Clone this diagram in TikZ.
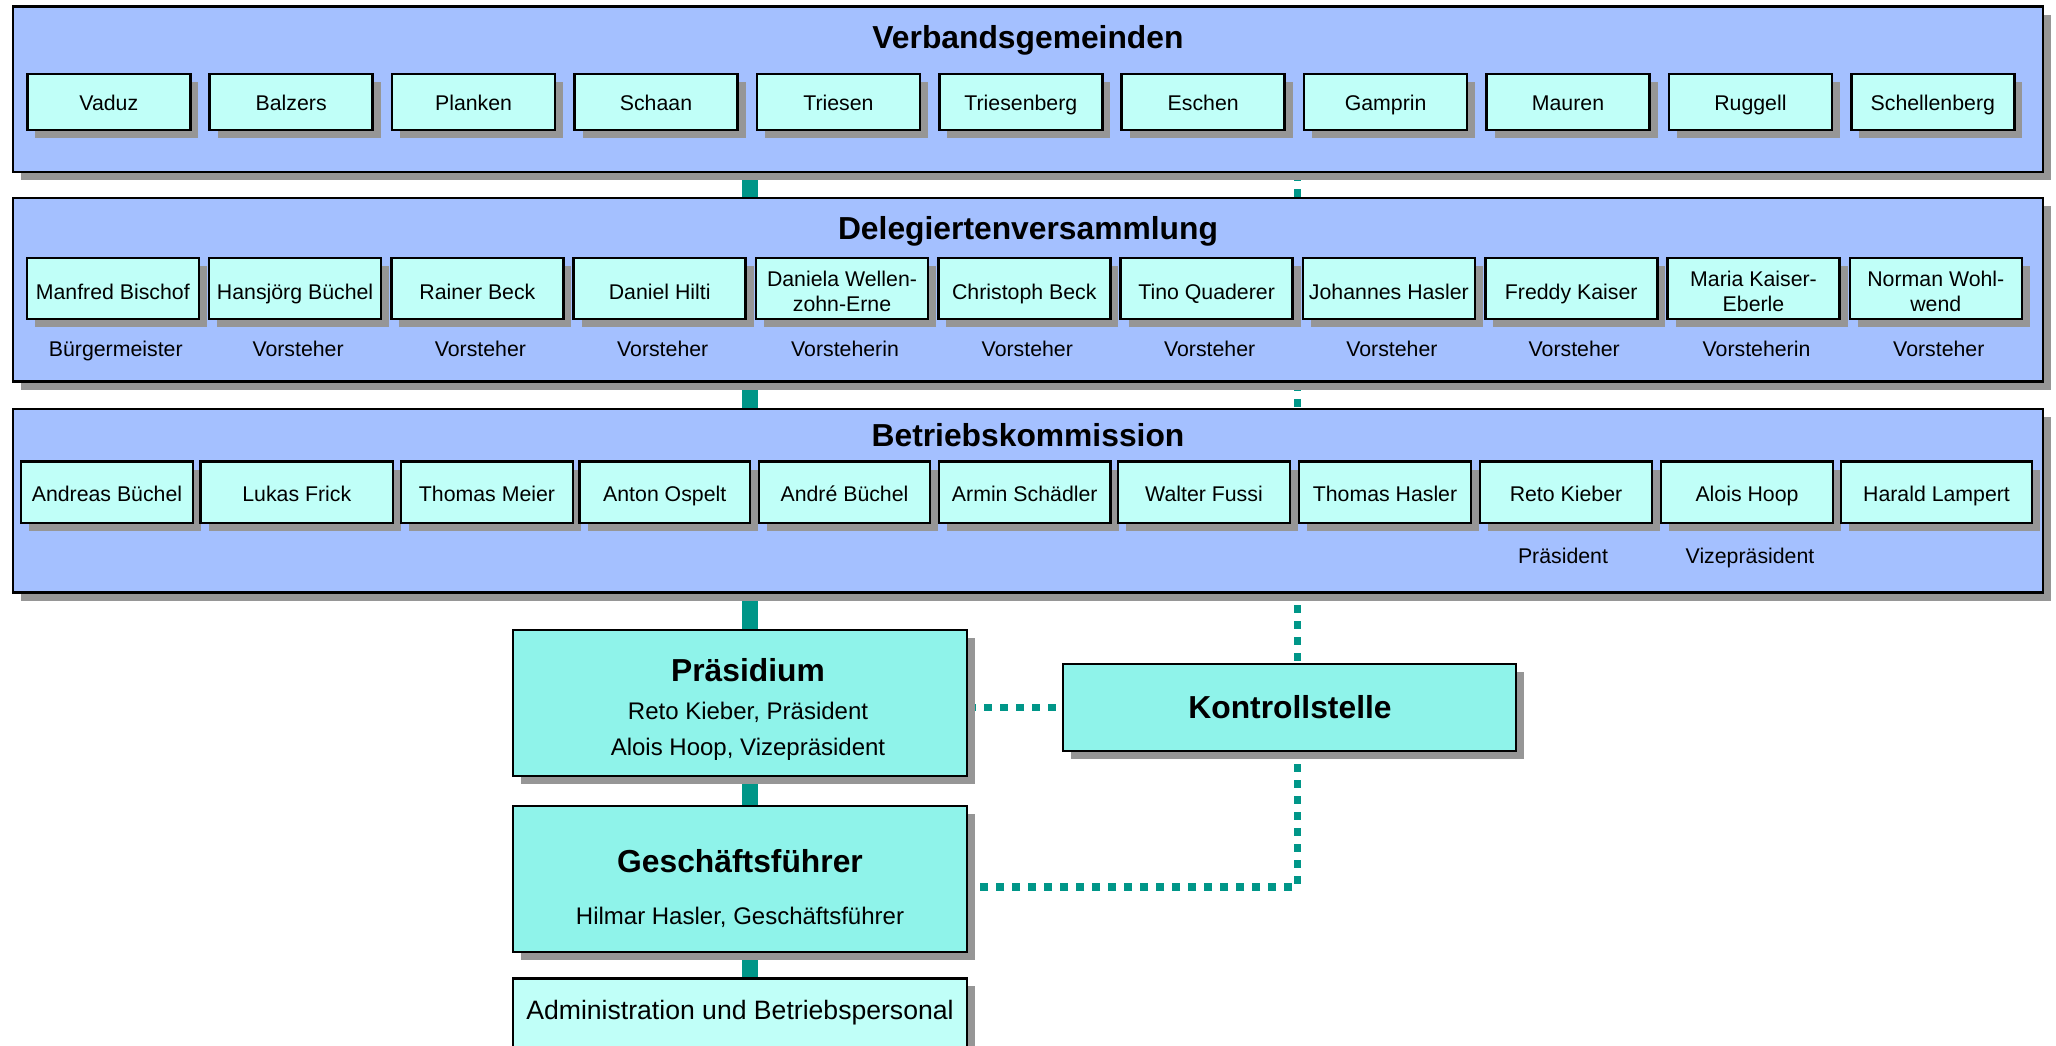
\documentclass[tikz,border=0pt]{standalone}
\usepackage{fontspec}
\setmainfont{Liberation Sans}
\usetikzlibrary{shadows}
\definecolor{bandblue}{RGB}{164,192,255}
\definecolor{cellcyan}{RGB}{192,255,248}
\definecolor{keycyan}{RGB}{143,243,234}
\definecolor{shadowgray}{RGB}{150,150,150}
\definecolor{linkteal}{RGB}{0,150,136}
\pgfdeclarelayer{paper}
\pgfdeclarelayer{links}
\pgfsetlayers{paper,links,main}
\newcommand\fsTitle{\fontsize{31.8}{36}\selectfont\bfseries}
\newcommand\fsCell{\fontsize{21.3}{25}\selectfont}
\newcommand\fsSub{\fontsize{24}{28}\selectfont}
\newcommand\fsAdmin{\fontsize{26.6}{30}\selectfont}

\begin{document}
\begin{tikzpicture}[x=1pt,y=-1pt,
  shadowed/.style={drop shadow={shadow xshift=8pt,shadow yshift=-8pt,fill=shadowgray,opacity=1}},
  band/.style={shadowed,draw=black,line width=2.8pt,fill=bandblue,inner sep=0pt,minimum width=2030pt},
  cell/.style={shadowed,draw=black,line width=2.6pt,fill=cellcyan,inner sep=0pt,align=center,font=\fsCell},
  rowA/.style={text height=16pt,text depth=0pt},
  rowB/.style={text height=22.4pt,text depth=0pt},
  rowBtwo/.style={text height=45pt,text depth=0pt},
  rowC/.style={text height=18.8pt,text depth=0pt},
  keybox/.style={shadowed,draw=black,line width=2.8pt,fill=keycyan,inner sep=0pt},
  title/.style={anchor=base,font=\fsTitle},
  role/.style={anchor=base,font=\fsCell},
  spine/.style={draw=linkteal,line width=16pt},
  audit/.style={draw=linkteal,line width=7.5pt,dash pattern=on 8pt off 8pt}
]
\useasboundingbox (0,0) rectangle (2056,1045);
\begin{pgfonlayer}{paper}
  \fill[white] (0,0) rectangle (2056,1045);
\end{pgfonlayer}

% the three member bands
\node[band,minimum height=165.5pt] (band1) at (1028,89.25) {};
\node[band,minimum height=183.5pt] (band2) at (1028,289.75) {};
\node[band,minimum height=183.6pt] (band3) at (1028,500.8) {};
\node[title] (t1) at (1028,48) {Verbandsgemeinden};
\node[title] (t2) at (1028,239.3) {Delegiertenversammlung};
\node[title] (t3) at (1028,446) {Betriebskommission};

% member municipalities
\foreach \name [count=\i from 0] in {Vaduz,Balzers,Planken,Schaan,Triesen,Triesenberg,Eschen,Gamprin,Mauren,Ruggell,Schellenberg}
  \node[cell,rowA,minimum width=163pt,minimum height=56pt] (g\i) at ({108.8+182.4*\i},102) {\name};

% delegates and their offices
\foreach \name/\role/\st [count=\i from 0] in {Manfred Bischof/Bürgermeister/rowB, Hansjörg Büchel/Vorsteher/rowB, Rainer Beck/Vorsteher/rowB, Daniel Hilti/Vorsteher/rowB, {Daniela Wellen-\\zohn-Erne}/Vorsteherin/rowBtwo, Christoph Beck/Vorsteher/rowB, Tino Quaderer/Vorsteher/rowB, Johannes Hasler/Vorsteher/rowB, Freddy Kaiser/Vorsteher/rowB, {Maria Kaiser-\\Eberle}/Vorsteherin/rowBtwo, {Norman Wohl-\\wend}/Vorsteher/rowBtwo}
{
  \node[cell,\st,minimum width=172pt,minimum height=61pt] (d\i) at ({112.8+182.3*\i},288.5) {\name};
  \node[role] (r\i) at ({115.8+182.3*\i},356) {\role};
}

% operating commission
\foreach \l/\r/\name [count=\i from 0] in {21/193/Andreas Büchel, 200.6/393/Lukas Frick, 401/573/Thomas Meier, 579.5/750/Anton Ospelt, 759/930/André Büchel, 939/1110.5/Armin Schädler, 1118/1290/Walter Fussi, 1299/1471/Thomas Hasler, 1480/1652/Reto Kieber, 1661/1833/Alois Hoop, 1841/2032/Harald Lampert}
{
  \pgfmathsetmacro\boxW{\r-\l}
  \pgfmathsetmacro\boxX{(\l+\r)/2}
  \node[cell,rowC,minimum width=\boxW pt,minimum height=61.5pt] (k\i) at (\boxX,492.25) {\name};
}
\node[role] (p1) at (1563,563) {Präsident};
\node[role] (p2) at (1750,563) {Vizepräsident};

% executive boxes
\node[keybox,minimum width=454pt,minimum height=146pt] (pras) at (740,703) {};
\node[title] (prasT) at (748,681.7) {Präsidium};
\node[anchor=base,font=\fsSub] (prasA) at (748,719.3) {Reto Kieber, Präsident};
\node[anchor=base,font=\fsSub] (prasB) at (748,755) {Alois Hoop, Vizepräsident};

\node[keybox,minimum width=453pt,minimum height=87pt] (ctrl) at (1289.5,707.5) {};
\node[title] (ctrlT) at (1290,718.3) {Kontrollstelle};

\node[keybox,minimum width=454pt,minimum height=146pt] (gf) at (740,879) {};
\node[title] (gfT) at (740,872) {Geschäftsführer};
\node[anchor=base,font=\fsSub] (gfA) at (740,924.3) {Hilmar Hasler, Geschäftsführer};

\node[shadowed,draw=black,line width=2.8pt,fill=cellcyan,minimum width=454pt,minimum height=130pt,anchor=north] (admin) at (740,977) {};
\node[anchor=base,font=\fsAdmin] (adminT) at (740,1019.3) {Administration und Betriebspersonal};

% connectors
\coordinate (spinex) at (750,0);
\coordinate (auditx) at (1297.5,0);
\begin{pgfonlayer}{links}
  \draw[spine] (band1.south -| spinex) -- (band2.north -| spinex);
  \draw[spine] (band2.south -| spinex) -- (band3.north -| spinex);
  \draw[spine] (band3.south -| spinex) -- (pras.north -| spinex);
  \draw[spine] (pras.south -| spinex) -- (gf.north -| spinex);
  \draw[spine] (gf.south -| spinex) -- (admin.north -| spinex);
  \draw[audit] (band1.south -| auditx) -- (band2.north -| auditx);
  \draw[audit] (band2.south -| auditx) -- (band3.north -| auditx);
  \draw[audit,dash phase=5pt] (band3.south -| auditx) -- (ctrl.north -| auditx);
  \draw[audit] (pras.east |- ctrl.west) -- (ctrl.west);
  \draw[audit,dash phase=4pt] (ctrl.south -| auditx) |- ([yshift=-8pt]gf.east);
\end{pgfonlayer}
\end{tikzpicture}
\end{document}
